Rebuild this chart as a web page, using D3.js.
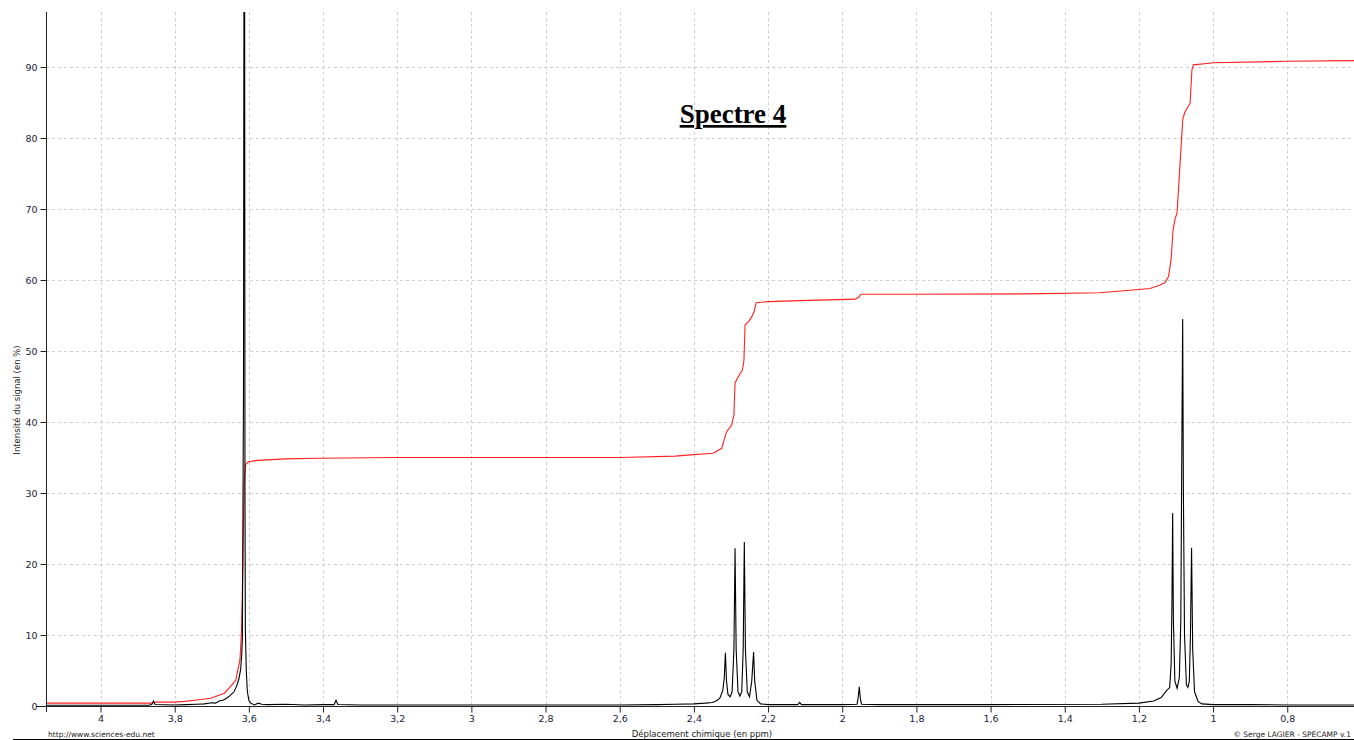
<!DOCTYPE html>
<html><head><meta charset="utf-8">
<script src="https://cdn.jsdelivr.net/npm/d3@7"></script>
<style>body{margin:0;background:#fff;overflow:hidden}</style>
</head><body>
<svg id="c" width="1354" height="740"></svg>
<script>
const xTicks = [4, 3.8, 3.6, 3.4, 3.2, 3, 2.8, 2.6, 2.4, 2.2, 2, 1.8, 1.6, 1.4, 1.2, 1, 0.8];
const yTicks = [0, 10, 20, 30, 40, 50, 60, 70, 80, 90];
const titleText = "Spectre 4";
const xLabel = "Déplacement chimique (en ppm)";
const yLabel = "Intensité du signal (en %)";
const leftNote = "http://www.sciences-edu.net";
const rightNote = "© Serge LAGIER - SPECAMP v.1";

// spectrum (ppm, intensity %)
const spectrum = [
[4.15,0.1],[3.87,0.1],[3.862,0.2],[3.857,0.7],[3.853,0.2],[3.80,0.15],[3.77,0.2],[3.74,0.25],[3.72,0.3],
[3.70,0.45],[3.69,0.4],[3.68,0.7],[3.67,0.8],[3.66,1.1],[3.65,1.5],[3.64,2.0],[3.633,2.8],[3.627,3.8],
[3.622,5.2],[3.619,7.5],[3.6175,9.5],[3.616,26],[3.6145,44],[3.613,110],[3.6115,110],[3.6105,31],[3.6095,11],
[3.607,5],[3.604,2],[3.600,0.8],[3.595,0.4],[3.585,0.15],[3.575,0.4],[3.565,0.25],[3.55,0.2],[3.50,0.25],[3.45,0.15],
[3.40,0.2],[3.37,0.2],[3.365,0.8],[3.36,0.2],[3.30,0.15],[3.0,0.15],[2.6,0.15],[2.5,0.2],[2.45,0.25],[2.40,0.3],
[2.37,0.4],[2.35,0.5],[2.34,0.7],[2.33,1.1],[2.322,2.2],[2.318,4],[2.315,7.5],[2.312,3.5],[2.308,1.6],[2.302,1.3],
[2.297,2],[2.292,8],[2.289,22.2],[2.286,8],[2.281,2],[2.276,1.4],[2.271,2],[2.267,8],[2.264,23.1],[2.261,8],
[2.256,2],[2.25,1.3],[2.244,3.5],[2.239,7.6],[2.236,3.5],[2.23,0.8],[2.22,0.3],[2.20,0.2],[2.12,0.2],[2.115,0.5],
[2.11,0.2],[2.0,0.2],[1.96,0.25],[1.957,1.2],[1.954,2.7],[1.951,1.0],[1.948,0.25],[1.90,0.2],[1.6,0.2],[1.3,0.25],
[1.2,0.4],[1.16,0.7],[1.14,1.2],[1.125,2.2],[1.117,2.6],[1.113,6],[1.111,14],[1.109,27.2],[1.107,12],[1.103,3.5],
[1.097,2.5],[1.091,4],[1.087,12],[1.085,30],[1.082,54.5],[1.080,30],[1.077,10],[1.072,3],[1.068,2.6],[1.064,3.5],
[1.061,10],[1.058,22.3],[1.055,8],[1.05,2],[1.04,0.6],[1.03,0.3],[1.0,0.2],[0.9,0.2],[0.8,0.15],[0.62,0.15]
];

// integral curve (ppm, %)
const integral = [
[4.15,0.4],[3.86,0.4],[3.855,0.55],[3.80,0.55],[3.774,0.65],[3.74,0.85],[3.703,1.1],[3.666,1.8],[3.645,3],
[3.635,3.7],[3.624,6.5],[3.620,10.3],[3.616,20],[3.613,31],[3.609,34],[3.601,34.4],[3.576,34.6],[3.50,34.8],
[3.414,34.9],[3.2,35],[2.6,35],[2.45,35.2],[2.40,35.4],[2.348,35.6],[2.325,36.3],[2.316,37.9],[2.312,38.6],
[2.298,39.6],[2.292,41],[2.289,45.5],[2.28,46.4],[2.269,47.3],[2.265,48.7],[2.262,53.7],[2.253,54.1],
[2.244,54.8],[2.238,55.5],[2.232,56.8],[2.2,56.95],[2.114,57.1],[1.965,57.3],[1.955,57.6],[1.950,58.0],
[1.8,58.0],[1.5,58.05],[1.305,58.2],[1.17,58.8],[1.143,59.3],[1.13,59.6],[1.12,60.5],[1.113,63],[1.108,67],
[1.103,68.5],[1.097,69.5],[1.086,79],[1.082,82.5],[1.080,83],[1.0755,83.7],[1.062,84.9],[1.057,89.6],
[1.053,90.3],[1.017,90.5],[1.0,90.6],[0.8,90.8],[0.62,90.9]
];

const svg = d3.select("#c");
const L = 46, R = 1354, T = 12, B = 706;
const x = d3.scaleLinear().domain([4.147, 0.62]).range([L, R]);
const y = d3.scaleLinear().domain([0, 90]).range([B, 67]);

svg.append("defs").append("clipPath").attr("id","clip")
  .append("rect").attr("x",L).attr("y",T).attr("width",R-L).attr("height",B-T+2);

const grid = svg.append("g").attr("stroke","#cfcfcf").attr("stroke-dasharray","3,3").attr("stroke-width",1);
xTicks.forEach(t => grid.append("line").attr("x1",Math.round(x(t))+0.5).attr("x2",Math.round(x(t))+0.5).attr("y1",T).attr("y2",B));
yTicks.slice(1).forEach(t => grid.append("line").attr("x1",L).attr("x2",R).attr("y1",Math.round(y(t))+0.5).attr("y2",Math.round(y(t))+0.5));

const g = svg.append("g").attr("clip-path","url(#clip)");
const line = d3.line().x(d => x(d[0])).y(d => y(d[1]));
g.append("path").datum(integral).attr("d",line).attr("fill","none").attr("stroke","#ff2020").attr("stroke-width",1.1);
g.append("path").datum(spectrum).attr("d",line).attr("fill","none").attr("stroke","#000").attr("stroke-width",1.1);

// axes
const xAxis = svg.append("g").attr("transform",`translate(0,${B+0.5})`)
  .call(d3.axisBottom(x).tickValues(xTicks).tickSize(6).tickSizeOuter(0).tickFormat(d => String(d).replace(".",",")));
xAxis.select(".domain").remove();
svg.append("line").attr("x1",36).attr("x2",R).attr("y1",B+0.5).attr("y2",B+0.5).attr("stroke","#222");
const yAxis = svg.append("g").attr("transform",`translate(${L+0.5},0)`)
  .call(d3.axisLeft(y).tickValues(yTicks).tickSize(6).tickSizeOuter(0));
yAxis.select(".domain").remove();
svg.append("line").attr("x1",L+0.5).attr("x2",L+0.5).attr("y1",T).attr("y2",B+6).attr("stroke","#222");
[xAxis,yAxis].forEach(a => {
  a.selectAll("line").attr("stroke","#222");
  a.selectAll("text").attr("font-family","DejaVu Sans, sans-serif").attr("font-size","9.5px").attr("fill","#1a1a3a");
});

svg.append("text").attr("x",733).attr("y",123).attr("text-anchor","middle")
  .attr("font-family","Liberation Serif, serif").attr("font-weight","bold").attr("font-size","27px")
  .attr("text-decoration","underline").text(titleText);

svg.append("text").attr("x",702).attr("y",737).attr("text-anchor","middle")
  .attr("font-family","DejaVu Sans, sans-serif").attr("font-size","8.5px").attr("fill","#222").text(xLabel);
svg.append("text").attr("transform","translate(20,400) rotate(-90)").attr("text-anchor","middle")
  .attr("font-family","DejaVu Sans, sans-serif").attr("font-size","8.5px").attr("fill","#222").text(yLabel);
svg.append("text").attr("x",48).attr("y",737).attr("font-family","DejaVu Sans, sans-serif").attr("font-size","7.5px").attr("fill","#222").text(leftNote);
svg.append("text").attr("x",1351).attr("y",737).attr("text-anchor","end").attr("font-family","DejaVu Sans, sans-serif").attr("font-size","7.5px").attr("fill","#222").text(rightNote);
svg.append("line").attr("x1",13).attr("x2",1354).attr("y1",739.5).attr("y2",739.5).attr("stroke","#000");
</script>
</body></html>
